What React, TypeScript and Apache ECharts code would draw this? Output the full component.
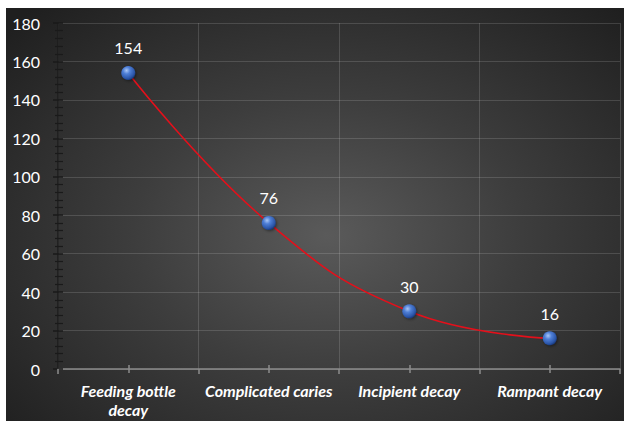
import React, { useEffect, useRef } from "react";
import * as echarts from "echarts";

const categories: string[] = [
  "Feeding bottle\ndecay",
  "Complicated caries",
  "Incipient decay",
  "Rampant decay",
];
const cases: number[] = [154, 76, 30, 16];
const yMin = 0;
const yMax = 180;
const yStep = 20;

const FONT = "Lato, 'Open Sans', sans-serif";

export default function App() {
  const ref = useRef<HTMLDivElement>(null);

  useEffect(() => {
    if (!ref.current) return;
    const chart = echarts.init(ref.current, undefined, { renderer: "svg" });

    const sphere = {
      type: "radial",
      x: 0.38,
      y: 0.32,
      r: 0.72,
      colorStops: [
        { offset: 0, color: "#a9c6f5" },
        { offset: 0.35, color: "#4f7fd6" },
        { offset: 0.8, color: "#2a55a8" },
        { offset: 1, color: "#173677" },
      ],
    };

    chart.setOption({
      animation: false,
      backgroundColor: "transparent",
      grid: { left: 52, right: 4, top: 15, bottom: 52 },
      xAxis: [
        {
          type: "category",
          data: categories,
          boundaryGap: true,
          axisLine: { show: true, lineStyle: { color: "#8c8c8c", width: 1.5 } },
          axisTick: {
            show: true,
            interval: 0,
            alignWithLabel: false,
            length: 5,
            lineStyle: { color: "#8c8c8c", width: 1.5 },
          },
          splitLine: {
            show: true,
            interval: 0,
            lineStyle: { color: "rgba(255,255,255,0.14)", width: 1 },
          },
          axisLabel: {
            interval: 0,
            color: "#ffffff",
            fontFamily: FONT,
            fontSize: 16,
            fontWeight: "bold",
            fontStyle: "italic",
            lineHeight: 19,
            margin: 12,
          },
        },
        {
          type: "category",
          data: categories,
          position: "bottom",
          offset: -4,
          axisLine: { show: false },
          axisTick: {
            show: true,
            alignWithLabel: true,
            length: 8,
            lineStyle: { color: "#8c8c8c", width: 1.5 },
          },
          axisLabel: { show: false },
          splitLine: { show: false },
        },
      ],
      yAxis: [
        {
          type: "value",
          min: yMin,
          max: yMax,
          interval: yStep,
          axisLine: { show: true, lineStyle: { color: "#1c1c1c", width: 1.5 } },
          axisTick: { show: false },
          splitLine: {
            show: true,
            lineStyle: { color: "rgba(255,255,255,0.14)", width: 1 },
          },
          axisLabel: {
            color: "#ffffff",
            fontFamily: FONT,
            fontSize: 16,
            margin: 18,
          },
        },
        {
          type: "value",
          min: yMin,
          max: yMax,
          interval: yStep,
          position: "left",
          offset: -5,
          axisLine: { show: false },
          axisTick: {
            show: true,
            length: 10,
            lineStyle: { color: "#1a1a1a", width: 1.5 },
          },
          minorTick: {
            show: true,
            splitNumber: 5,
            length: 8,
            lineStyle: { color: "#1a1a1a", width: 1.2 },
          },
          axisLabel: { show: false },
          splitLine: { show: false },
        },
      ],
      series: [
        {
          type: "line",
          data: cases,
          smooth: 0.45,
          symbol: "circle",
          symbolSize: 14,
          lineStyle: { color: "#e3101b", width: 1.6 },
          itemStyle: {
            color: sphere,
            borderWidth: 0,
            shadowColor: "rgba(0,0,0,0.45)",
            shadowBlur: 3,
            shadowOffsetX: 1,
            shadowOffsetY: 1,
          },
          label: {
            show: true,
            position: "top",
            distance: 10,
            color: "#ffffff",
            fontFamily: FONT,
            fontSize: 16,
          },
          z: 3,
        },
      ],
    });

    return () => chart.dispose();
  }, []);

  return (
    <div
      ref={ref}
      style={{
        position: "absolute",
        left: 6,
        top: 8,
        width: 618,
        height: 413,
        background:
          "radial-gradient(ellipse 70% 75% at 52% 55%, #5a5a5a 0%, #3d3d3d 45%, #2a2a2a 80%, #1f1f1f 100%)",
      }}
    />
  );
}
